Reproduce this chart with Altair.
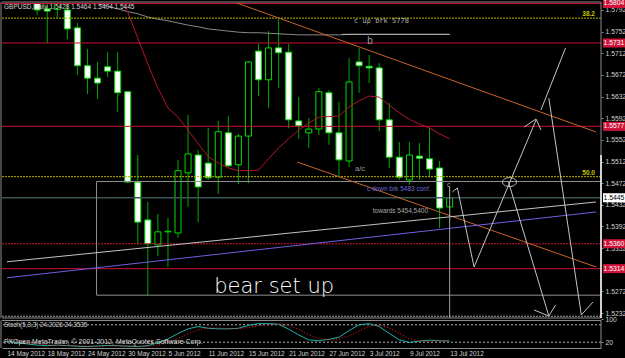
import altair as alt
import pandas as pd

# ---------------- data ----------------
# bar index 0 = 14 May 2012 ... 44 = 13 Jul 2012 (daily GBPUSD)
bar_idx = list(range(45))
opens = [1.6080, 1.6035, 1.6010, 1.5875, 1.5794, 1.5793, 1.5792, 1.5759, 1.5689, 1.5666,
         1.5687, 1.5679, 1.5641, 1.5474, 1.5404, 1.5358, 1.5382, 1.5380, 1.5491, 1.5524,
         1.5509, 1.5483, 1.5565, 1.5506, 1.5559, 1.5716, 1.5663, 1.5722, 1.5714, 1.5587,
         1.5565, 1.5572, 1.5639, 1.5565, 1.5513, 1.5696, 1.5688, 1.5685, 1.5589, 1.5520,
         1.5478, 1.5522, 1.5517, 1.5500, 1.5428]
highs = [1.6105, 1.6060, 1.6030, 1.5895, 1.5850, 1.5825, 1.5810, 1.5768, 1.5720, 1.5696,
         1.5714, 1.5714, 1.5642, 1.5524, 1.5437, 1.5415, 1.5408, 1.5515, 1.5598, 1.5533,
         1.5574, 1.5587, 1.5596, 1.5563, 1.5698, 1.5729, 1.5753, 1.5775, 1.5729, 1.5631,
         1.5592, 1.5648, 1.5644, 1.5622, 1.5703, 1.5722, 1.5709, 1.5694, 1.5620, 1.5548,
         1.5548, 1.5546, 1.5574, 1.5513, 1.5464]
lows = [1.6010, 1.5990, 1.5860, 1.5783, 1.5731, 1.5777, 1.5738, 1.5672, 1.5637, 1.5628,
        1.5668, 1.5604, 1.5472, 1.5358, 1.5265, 1.5337, 1.5317, 1.5371, 1.5428, 1.5400,
        1.5478, 1.5452, 1.5502, 1.5470, 1.5472, 1.5633, 1.5611, 1.5648, 1.5574, 1.5554,
        1.5537, 1.5561, 1.5543, 1.5483, 1.5502, 1.5639, 1.5657, 1.5568, 1.5500, 1.5478,
        1.5469, 1.5478, 1.5483, 1.5389, 1.5404]
closes = [1.6035, 1.6010, 1.5875, 1.5792, 1.5790, 1.5805, 1.5757, 1.5689, 1.5666, 1.5657,
          1.5679, 1.5639, 1.5474, 1.5400, 1.5360, 1.5382, 1.5383, 1.5495, 1.5526, 1.5465,
          1.5482, 1.5567, 1.5504, 1.5559, 1.5696, 1.5663, 1.5722, 1.5713, 1.5589, 1.5578,
          1.5572, 1.5641, 1.5565, 1.5515, 1.5659, 1.5689, 1.5685, 1.5589, 1.5520, 1.5483,
          1.5524, 1.5518, 1.5498, 1.5426, 1.5445]

date_tick_idx = [0, 4, 8, 12, 16, 20, 24, 28, 32, 36, 40, 44]
date_labels = ["14 May 2012", "18 May 2012", "24 May 2012", "30 May 2012", "5 Jun 2012",
               "11 Jun 2012", "15 Jun 2012", "21 Jun 2012", "27 Jun 2012", "3 Jul 2012",
               "9 Jul 2012", "13 Jul 2012"]
# 1.5312 is fully hidden behind the 1.5314 box in the reference
price_ticks = [1.5232, 1.5272, 1.5352, 1.5392, 1.5432, 1.5472, 1.5512,
               1.5552, 1.5592, 1.5632, 1.5672, 1.5712, 1.5752, 1.5792]

ma_long_idx = list(range(7, 45))
ma_long = [1.5816, 1.5809, 1.5804, 1.5799, 1.5794, 1.5789, 1.5785, 1.5779, 1.5775, 1.5772,
           1.5768, 1.5764, 1.5761, 1.5757, 1.5755, 1.5753, 1.5751, 1.5750, 1.5750, 1.5749,
           1.5748, 1.5747, 1.5746, 1.5746, 1.5746, 1.5746, 1.5746, 1.5747, 1.5747, 1.5747,
           1.5747, 1.5747, 1.5747, 1.5747, 1.5747, 1.5747, 1.5747, 1.5747]
ma_red_idx = list(range(11, 45))
ma_red = [1.5825, 1.5788, 1.5740, 1.5692, 1.5648, 1.5611, 1.5594, 1.5570, 1.5545, 1.5521,
          1.5509, 1.5500, 1.5495, 1.5495, 1.5496, 1.5517, 1.5537, 1.5554, 1.5570, 1.5583,
          1.5594, 1.5595, 1.5596, 1.5613, 1.5624, 1.5633, 1.5631, 1.5616, 1.5602, 1.5590,
          1.5581, 1.5574, 1.5563, 1.5554]

stoch_k = [25, 18, 14, 10, 8, 10, 8, 6, 5, 7, 9, 8, 6, 5, 8, 18, 31, 50, 66, 74,
           68, 66, 66, 68, 78, 84, 84, 82, 65, 45, 28, 25, 30, 37, 60, 80, 84, 74, 50, 28,
           19, 24, 27, 25, 24.2]
stoch_d = [32, 26, 19, 14, 11, 9, 9, 8, 6, 6, 7, 8, 8, 6, 6, 10, 19, 33, 49, 63,
           69, 69, 67, 67, 71, 77, 82, 83, 77, 64, 46, 33, 28, 31, 42, 59, 75, 79, 69, 51,
           32, 24, 23, 25, 24.4]
stoch_levels = [20, 80]
stoch_ticks = [20, 100]

red_levels = [1.5804, 1.5731, 1.5577, 1.5314]
red_dotted_levels = [1.5360]
fib_levels = [1.5777, 1.5484]
fib_labels = ["38.2", "50.0"]
bid_price = [1.5445]
low_dotted = [1.5226]

box_prices = [1.5804, 1.5731, 1.5577, 1.5360, 1.5314, 1.5445]
box_labels = ["1.5804", "1.5731", "1.5577", "1.5360", "1.5314", "1.5445"]
box_fill = ["#d0143c", "#d0143c", "#d0143c", "#d0143c", "#d0143c", "#ffffff"]
box_text = ["#ffffff", "#ffffff", "#ffffff", "#ffffff", "#ffffff", "#000000"]

# rectangle object (bar index / price)
rect_i = [8.9]
rect_i2 = [62.0]
rect_p = [1.5475]
rect_p2 = [1.5265]

# trend lines: name, start (idx, price), end (idx, price), colour
tl_name = ["res", "chan", "sup", "blue", "flat"]
tl_i0 = [21.0, 28.84, 0.0, 0.0, 33.3]
tl_p0 = [1.58172, 1.55111, 1.53267, 1.52971, 1.5747]
tl_i1 = [58.55, 58.55, 58.55, 58.55, 44.0]
tl_p1 = [1.55666, 1.53171, 1.54372, 1.54187, 1.5747]
tl_col = ["#c8642a", "#c8642a", "#c4c4c4", "#6f5fe0", "#b4b4b4"]

# hand drawn projection strokes
hand_paths = {
    "zig": ([44.28, 44.77, 46.43, 52.59], [1.54557, 1.54631, 1.53171, 1.55887]),
    "arrA": ([51.42, 52.59, 53.08], [1.55758, 1.55906, 1.55703]),
    "up": ([53.08, 55.52], [1.56072, 1.57218]),
    "down1": ([53.86, 57.09], [1.56294, 1.52284]),
    "arrC": ([57.09, 58.26], [1.52284, 1.52525]),
    "down2": ([49.85, 53.86], [1.54742, 1.52265]),
    "arrD": ([52.39, 53.86, 54.54], [1.52376, 1.52265, 1.52469]),
}
circle_i = [49.95]
circle_p = [1.5474]

# vertical line at current bar
vline_i = [44.0]
vline_p = [1.5465]
vline_p2 = [1.52228]
white_edge_p = [1.5524]

# annotations (idx, price, text)
note_text = ["c up brk 5778", "b", "a/c", "c down brk 5483 conf.", "towards 5454,5400", "c"]
note_i = [34.5, 35.8, 34.6, 35.78, 36.36, 43.75]
note_p = [1.5772, 1.5734, 1.5498, 1.5461, 1.5421, 1.5469]
note_col = ["#b4b4b4", "#9a9a9a", "#9a9a9a", "#6a6ad8", "#a8a8a8", "#a8a8a8"]
note_size = [7, 10, 7.5, 6.5, 6.5, 7]
note_font = ["DejaVu Sans Mono", "Liberation Sans", "Liberation Sans", "Liberation Sans",
             "Liberation Sans", "Liberation Sans"]
hand_text = ["bear set up"]
hand_text_i = [20.6]
hand_text_p = [1.5269]

header = ["GBPUSD,Daily  1.5428 1.5464 1.5404 1.5445"]
stoch_title = ["Stoch(5,3,3) 24.2026 24.3535"]
copyright_txt = ["FXOpen MetaTrader, \u00a9 2001-2012, MetaQuotes Software Corp."]

# ---------------- layout / styles ----------------
W, H, MAIN_H = 599, 345, 315
X_MAX = 58.55
P_MIN, P_MAX = 1.52228, 1.58049
FONT = "Liberation Sans"
LBL = "#d0d0d0"
FRAME = "#8c8c8c"
WICK = "#00a800"
BODY = "#00dd00"

xs = alt.Scale(domain=[0, X_MAX], range=[0, W], nice=False, zero=False)
ps = alt.Scale(domain=[P_MIN, P_MAX], range=[MAIN_H, 0], nice=False, zero=False)
ss = alt.Scale(domain=[0, 100], range=[H, 316], nice=False, zero=False)

label_expr = " : ".join(f"datum.value == {i} ? '{s}'" for i, s in zip(date_tick_idx, date_labels)) + " : ''"
x_axis = alt.Axis(values=date_tick_idx, labelExpr=label_expr, labelAlign="left",
                  labelColor=LBL, labelFontSize=6.5, labelFont=FONT, tickSize=0,
                  labelPadding=2, domain=True, domainColor=FRAME, grid=False,
                  labelFlush=False, labelOverlap=False, title=None)
p_axis = alt.Axis(orient="right", values=price_ticks, format=".4f", labelColor=LBL,
                  labelFontSize=6.8, labelFont=FONT, tickSize=2, tickColor=FRAME,
                  labelPadding=2, domain=False, grid=False, labelFlush=False,
                  labelOverlap=False, title=None)
s_axis = alt.Axis(orient="right", values=stoch_ticks, format="d", labelColor=LBL,
                  labelFontSize=6.8, labelFont=FONT, tickSize=2, tickColor=FRAME,
                  labelPadding=2, domain=False, grid=False, labelFlush=False,
                  labelOverlap=False, title=None)


def X(f):
    return alt.X(f, scale=xs, axis=x_axis, title=None)


def YP(f):
    return alt.Y(f, scale=ps, axis=p_axis, title=None)


def YS(f):
    return alt.Y(f, scale=ss, axis=s_axis, title=None)


one = pd.DataFrame({"z": [0]})

# ---------------- main panel ----------------
cdf = pd.DataFrame({"i": bar_idx, "o": opens, "h": highs, "l": lows, "c": closes})
cdf["fill"] = ["#000000" if c > o else "#ffffff" for o, c in zip(opens, closes)]

wicks = alt.Chart(cdf).mark_rule(color=WICK, strokeWidth=1, clip=True).encode(
    x=X("i:Q"), y=YP("l:Q"), y2="h:Q")
bodies = alt.Chart(cdf).mark_bar(size=6, stroke=BODY, strokeWidth=1, clip=True).encode(
    x=X("i:Q"), y=YP("o:Q"), y2="c:Q", fill=alt.Fill("fill:N", scale=None))

ma_long_l = alt.Chart(pd.DataFrame({"i": ma_long_idx, "p": ma_long})).mark_line(
    color="#8a8a8a", strokeWidth=1, clip=True).encode(x=X("i:Q"), y=YP("p:Q"))
ma_red_l = alt.Chart(pd.DataFrame({"i": ma_red_idx, "p": ma_red})).mark_line(
    color="#b4142a", strokeWidth=1, clip=True).encode(x=X("i:Q"), y=YP("p:Q"))

red_rules = alt.Chart(pd.DataFrame({"p": red_levels})).mark_rule(
    color="#cc1133", strokeWidth=1, clip=True).encode(y=YP("p:Q"))
red_dot_rules = alt.Chart(pd.DataFrame({"p": red_dotted_levels})).mark_rule(
    color="#cc1133", strokeWidth=1, strokeDash=[2, 1], clip=True).encode(y=YP("p:Q"))
fib_rules = alt.Chart(pd.DataFrame({"p": fib_levels})).mark_rule(
    color="#b4b400", strokeWidth=1, strokeDash=[2, 1], clip=True).encode(y=YP("p:Q"))
fib_text = alt.Chart(pd.DataFrame({"p": fib_levels, "t": fib_labels, "i": [58.45, 58.45]})).mark_text(
    align="right", baseline="bottom", dy=-1, color="#c8c800", fontSize=6.5, font=FONT,
    fontWeight="bold").encode(x=X("i:Q"), y=YP("p:Q"), text="t:N")
bid_rule = alt.Chart(pd.DataFrame({"p": bid_price})).mark_rule(
    color="#3a5555", strokeWidth=1.5, clip=True).encode(y=YP("p:Q"))
low_rule = alt.Chart(pd.DataFrame({"p": low_dotted})).mark_rule(
    color="#9a9a9a", strokeWidth=1, strokeDash=[2, 1], clip=True).encode(y=YP("p:Q"))

rect = alt.Chart(pd.DataFrame({"i": rect_i, "i2": rect_i2, "p": rect_p, "p2": rect_p2})).mark_rect(
    fillOpacity=0, stroke="#909090", strokeWidth=1, clip=True).encode(
    x=X("i:Q"), x2="i2:Q", y=YP("p:Q"), y2="p2:Q")

tl_rows = []
for n, a, b, c, d, col in zip(tl_name, tl_i0, tl_p0, tl_i1, tl_p1, tl_col):
    tl_rows.append({"name": n, "k": 0, "i": a, "p": b, "col": col})
    tl_rows.append({"name": n, "k": 1, "i": c, "p": d, "col": col})
trend = alt.Chart(pd.DataFrame(tl_rows)).mark_line(strokeWidth=1, clip=True).encode(
    x=X("i:Q"), y=YP("p:Q"), detail="name:N", order="k:Q",
    color=alt.Color("col:N", scale=None))

hand_rows = []
for n, (ii, pp) in hand_paths.items():
    for k, (a, b) in enumerate(zip(ii, pp)):
        hand_rows.append({"name": n, "k": k, "i": a, "p": b})
hand = alt.Chart(pd.DataFrame(hand_rows)).mark_line(
    color="#c4c4c4", strokeWidth=1, clip=True).encode(
    x=X("i:Q"), y=YP("p:Q"), detail="name:N", order="k:Q")
ELLIPSE = "M-1,0A1,0.64,0,1,0,1,0A1,0.64,0,1,0,-1,0Z"
circle = alt.Chart(pd.DataFrame({"i": circle_i, "p": circle_p})).mark_point(
    shape=ELLIPSE, size=196, filled=False, stroke="#c4c4c4", strokeWidth=1, opacity=1).encode(
    x=X("i:Q"), y=YP("p:Q"))

vline = alt.Chart(pd.DataFrame({"i": vline_i, "p": vline_p, "p2": vline_p2})).mark_rule(
    color="#a0a0a0", strokeWidth=1, clip=True).encode(x=X("i:Q"), y=YP("p:Q"), y2="p2:Q")
white_edge = alt.Chart(pd.DataFrame({"p": white_edge_p})).mark_rule(
    color="#ffffff", strokeWidth=1.5).encode(x=alt.value(W), y=YP("p:Q"), y2=alt.value(MAIN_H))

notes = []
for t, a, b, col, sz, fn in zip(note_text, note_i, note_p, note_col, note_size, note_font):
    notes.append(alt.Chart(pd.DataFrame({"i": [a], "p": [b], "t": [t]})).mark_text(
        align="left", baseline="middle", color=col, fontSize=sz, font=fn).encode(
        x=X("i:Q"), y=YP("p:Q"), text="t:N"))
hand_label = alt.Chart(pd.DataFrame({"i": hand_text_i, "p": hand_text_p, "t": hand_text})).mark_text(
    align="left", baseline="alphabetic", color="#ffffff", fontSize=21, font="DejaVu Sans",
    fontWeight=200).encode(x=X("i:Q"), y=YP("p:Q"), text="t:N")

head = alt.Chart(pd.DataFrame({"t": header})).mark_text(
    align="left", baseline="middle", color="#d8d8d8", fontSize=6.5, font=FONT).encode(
    x=alt.value(2), y=alt.value(4), text="t:N")

frame_main = [
    alt.Chart(one).mark_rule(color=FRAME, strokeWidth=1).encode(
        x=alt.value(0), x2=alt.value(W), y=alt.value(-1)),
    alt.Chart(one).mark_rule(color=FRAME, strokeWidth=1).encode(
        x=alt.value(0), x2=alt.value(W), y=alt.value(MAIN_H)),
    alt.Chart(one).mark_rule(color=FRAME, strokeWidth=1).encode(
        x=alt.value(-1), y=alt.value(-1), y2=alt.value(MAIN_H)),
    alt.Chart(one).mark_rule(color=FRAME, strokeWidth=1).encode(
        x=alt.value(W), y=alt.value(-1), y2=alt.value(MAIN_H)),
]

bdf = pd.DataFrame({"p": box_prices, "t": box_labels, "f": box_fill, "tc": box_text})
BOX = "M-1,-0.41L1,-0.41L1,0.41L-1,0.41Z"
boxes = alt.Chart(bdf).mark_point(shape=BOX, size=484, filled=True, opacity=1, strokeWidth=0).encode(
    x=alt.value(W + 13), y=YP("p:Q"), color=alt.Color("f:N", scale=None))
box_txt = alt.Chart(bdf).mark_text(fontSize=6.8, font=FONT, align="center", baseline="middle").encode(
    x=alt.value(W + 13), y=YP("p:Q"), text="t:N", color=alt.Color("tc:N", scale=None))

main = alt.layer(
    wicks, bodies, ma_long_l, ma_red_l,
    red_rules, red_dot_rules, fib_rules, bid_rule, low_rule, rect,
    trend, hand, circle, vline, fib_text, *notes, hand_label, head,
    *frame_main, white_edge, boxes, box_txt,
)

# ---------------- stochastic panel ----------------
sdf = pd.DataFrame({"i": bar_idx, "k": stoch_k, "d": stoch_d})
lev = alt.Chart(pd.DataFrame({"v": stoch_levels})).mark_rule(
    color="#b4b4b4", strokeWidth=1, strokeDash=[2, 2]).encode(y=YS("v:Q"))
k_line = alt.Chart(sdf).mark_line(color="#20b2aa", strokeWidth=1).encode(x=X("i:Q"), y=YS("k:Q"))
d_line = alt.Chart(sdf).mark_line(color="#ff2020", strokeWidth=1, strokeDash=[1, 2]).encode(
    x=X("i:Q"), y=YS("d:Q"))
s_title = alt.Chart(pd.DataFrame({"t": stoch_title})).mark_text(
    align="left", baseline="middle", color="#d0d0d0", fontSize=6.3, font=FONT).encode(
    x=alt.value(2), y=alt.value(322), text="t:N")
s_copy = alt.Chart(pd.DataFrame({"t": copyright_txt})).mark_text(
    align="left", baseline="middle", color="#d8d8d8", fontSize=7, font=FONT).encode(
    x=alt.value(2), y=alt.value(339), text="t:N")
frame_stoch = [
    alt.Chart(one).mark_rule(color=FRAME, strokeWidth=1).encode(
        x=alt.value(0), x2=alt.value(W), y=alt.value(317.5)),
    alt.Chart(one).mark_rule(color=FRAME, strokeWidth=1).encode(
        x=alt.value(-1), y=alt.value(317.5), y2=alt.value(H)),
    alt.Chart(one).mark_rule(color=FRAME, strokeWidth=1).encode(
        x=alt.value(W), y=alt.value(317.5), y2=alt.value(H)),
]
stoch = alt.layer(lev, k_line, d_line, s_title, s_copy, *frame_stoch)

chart = alt.layer(main, stoch).resolve_scale(y="independent").properties(
    width=W, height=H,
    padding={"left": 2, "top": 3, "right": 24, "bottom": 10},
    autosize=alt.AutoSizeParams(type="none"),
    background="#000000",
).configure_view(stroke=None)

chart.save("out.html", embed_options={"renderer": "svg", "actions": False})
